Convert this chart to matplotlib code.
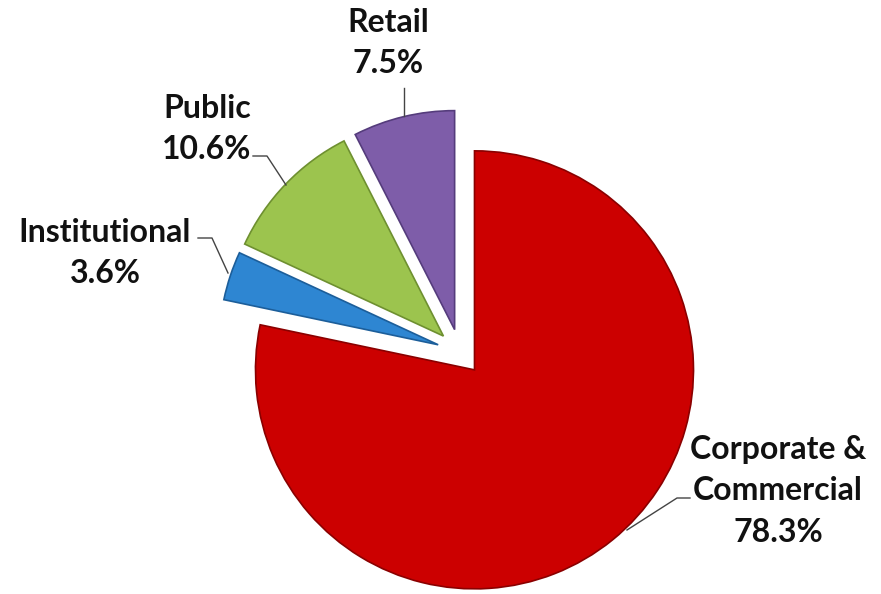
import matplotlib
matplotlib.use("Agg")
import matplotlib.pyplot as plt

# segment shares (%), clockwise from 12 o'clock
labels = ["Corporate &\nCommercial", "Institutional", "Public", "Retail"]
shares = [78.3, 3.6, 10.6, 7.5]
colors = ["#CC0000", "#2E86D2", "#9CC44E", "#7E5DA9"]
edges = ["#8A0000", "#1C5E9A", "#6E9030", "#553C7C"]

# pie centre and radius in pixels of the 881x594 picture
CX, CY, R = 460, 352, 219

def px(x, y):
    return (x - CX) / R, (CY - y) / R

# label anchors and leader lines (pixel positions)
label_pos = [(778, 491), (105, 253), (207, 129), (388, 43)]
leaders = [
    [(690, 498), (677, 498), (627, 530)],
    [(198, 238), (212, 238), (228, 273)],
    [(253, 156), (267, 156), (286, 185)],
    [(404, 88), (404, 116)],
]

fig = plt.figure(figsize=(8.81, 5.94), dpi=100)
ax = fig.add_axes([0, 0, 1, 1])

wedges, _ = ax.pie(shares, colors=colors, startangle=90, counterclock=False,
                   explode=[0.105] * 4, radius=1,
                   wedgeprops=dict(linewidth=1.2))
for w, ec in zip(wedges, edges):
    w.set_edgecolor(ec)

for lab, val, pos, line in zip(labels, shares, label_pos, leaders):
    x, y = px(*pos)
    ax.text(x, y, f"{lab}\n{val}%", ha="center", va="center",
            multialignment="center", fontsize=23, fontweight="bold",
            family="Lato", color="#111111", linespacing=1.5)
    pts = [px(*p) for p in line]
    ax.plot([p[0] for p in pts], [p[1] for p in pts], color="#444444", lw=1)

x0, y0 = px(0, 594)
x1, y1 = px(881, 0)
ax.set_xlim(x0, x1)
ax.set_ylim(y0, y1)
ax.set_aspect("auto")
ax.axis("off")

fig.savefig("out.png", dpi=100)
